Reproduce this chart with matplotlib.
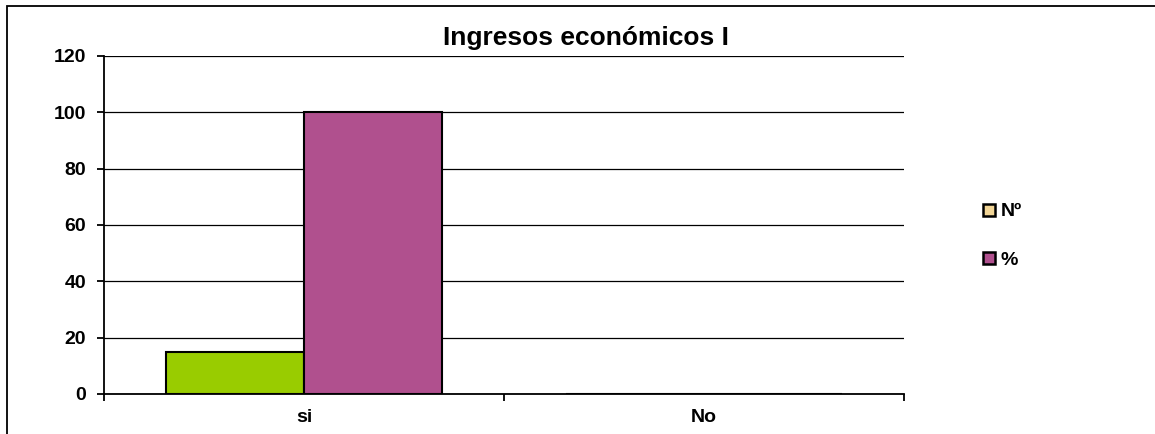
import matplotlib
matplotlib.use("Agg")
import matplotlib.pyplot as plt
import numpy as np
from matplotlib.patches import Rectangle
from matplotlib.lines import Line2D

categories = ["si", "No"]
series_names = ["Nº", "%"]
values_n = [15, 0]
values_pct = [100, 0]
yticks = [0, 20, 40, 60, 80, 100, 120]

bar_colors = ["#99CC00", "#B0508E"]
legend_colors = ["#F2D596", "#B0508E"]

plt.rcParams['font.family'] = ['Liberation Sans', 'DejaVu Sans']
W, H = 1155, 434
fig = plt.figure(figsize=(W/100, H/100), dpi=100)
ax = fig.add_axes([104/W, 1-394/H, (904-104)/W, (394-56)/H])

x = np.arange(len(categories))
bw = 0.345
ax.bar(x - bw/2, values_n, bw, color=bar_colors[0], edgecolor="black", linewidth=1.5, zorder=3)
ax.bar(x + bw/2, values_pct, bw, color=bar_colors[1], edgecolor="black", linewidth=1.5, zorder=3)

ax.set_xlim(-0.5, 1.5)
ax.set_ylim(0, 120)
ax.set_yticks(yticks)
ax.set_yticklabels([str(v) for v in yticks], fontsize=14, fontweight="bold")
ax.yaxis.grid(True, color="black", linewidth=0.9, zorder=0)
ax.set_xticks(x)
ax.set_xticklabels(categories, fontsize=14, fontweight="bold")
ax.tick_params(axis="x", length=0, pad=11)
ax.set_xticks([-0.5, 0.5, 1.5], minor=True)
ax.tick_params(axis="x", which="minor", length=5, width=1.3, direction="out")
ax.tick_params(axis="y", length=5, width=1.3, direction="out", pad=8)
for s in ["top", "right"]:
    ax.spines[s].set_visible(False)
ax.spines["left"].set_linewidth(1.3)
ax.spines["bottom"].set_linewidth(1.3)

fig.text(586/W, 1-38/H, "Ingresos económicos I", ha="center", va="center",
         fontsize=19, fontweight="bold")

handles = [Line2D([], [], marker="s", linestyle="none", markersize=9,
                  markerfacecolor=c, markeredgecolor="black", markeredgewidth=1.8)
           for c in legend_colors]
fig.legend(handles, series_names, loc="center left", bbox_to_anchor=(960/W, 1-236/H),
           frameon=False, prop={"weight": "bold", "size": 14}, handletextpad=0.0,
           labelspacing=1.6, handlelength=1.2)

fig.add_artist(Rectangle((7/W, -0.05), 1.2, 1-6/H+0.05, transform=fig.transFigure,
                         fill=False, edgecolor="black", linewidth=1.3))

fig.savefig("out.png", dpi=100)
